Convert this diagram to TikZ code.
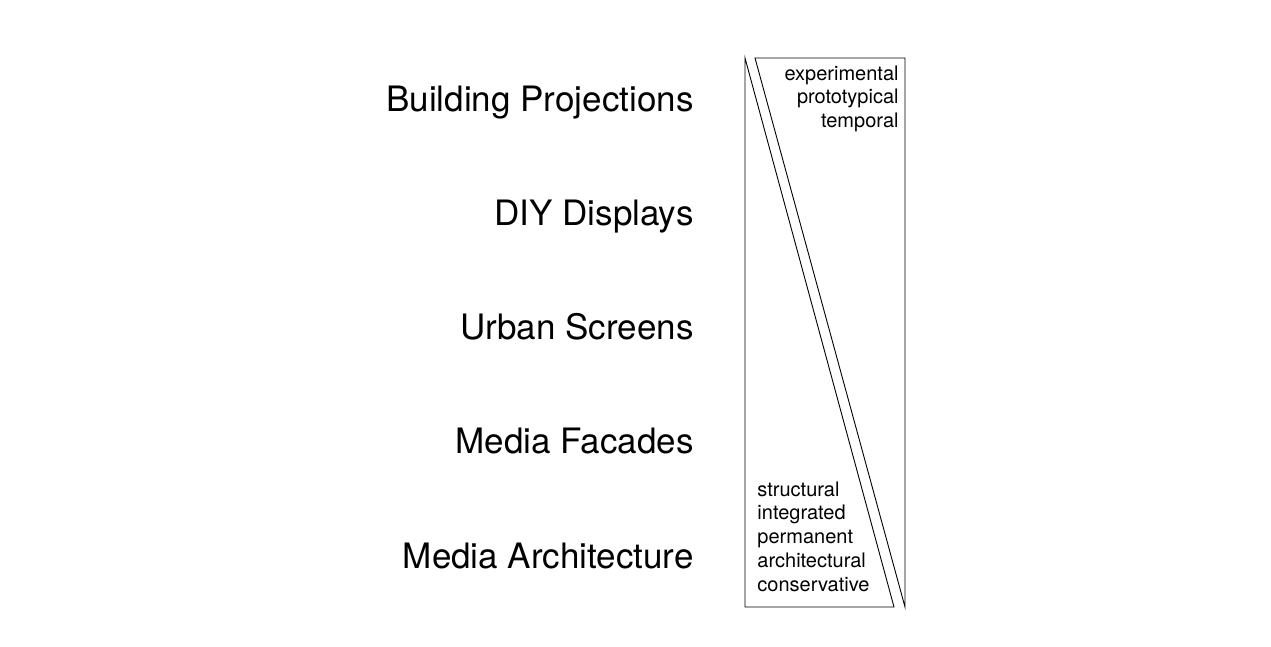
\documentclass[tikz,border=0pt]{standalone}
\usepackage{fontspec}
\setmainfont{TeX Gyre Heros}
\usetikzlibrary{positioning}

\begin{document}
\begin{tikzpicture}[x=1pt,y=-1pt,line width=0.9pt]
  \tikzstyle{category}=[anchor=base east,inner sep=0pt,font=\fontsize{35}{42}\selectfont]
  \tikzstyle{quality}=[inner sep=0pt,font=\fontsize{20}{23.8}\selectfont,align=left]

  \useasboundingbox (0,0) rectangle (1271,646);

  % categories on the left
  \node [category] (proj)  at (694,111) {Building Projections};
  \node [category] (diy)   at (694,225) {DIY Displays};
  \node [category] (urban) at (694,339) {Urban Screens};
  \node [category] (facade) at (694,453) {Media Facades};
  \node [category] (arch)  at (694,568) {Media Architecture};

  % the two wedges
  \coordinate (lt) at (745,58);
  \coordinate (lbl) at (745,607);
  \coordinate (lbr) at (894,607);
  \coordinate (rtl) at (755,58);
  \coordinate (rtr) at (905,58);
  \coordinate (rb) at (905,607);
  \draw (lt) -- (lbl) -- (lbr) -- cycle;
  \draw (rtl) -- (rtr) -- (rb) -- cycle;

  % qualities
  \node [quality,align=right,anchor=north east] (temp) at (899,65)
    {experimental\\prototypical\\temporal};
  \node [quality,anchor=south west] (perm) at (757,592)
    {structural\\integrated\\permanent\\architectural\\conservative};
\end{tikzpicture}
\end{document}
